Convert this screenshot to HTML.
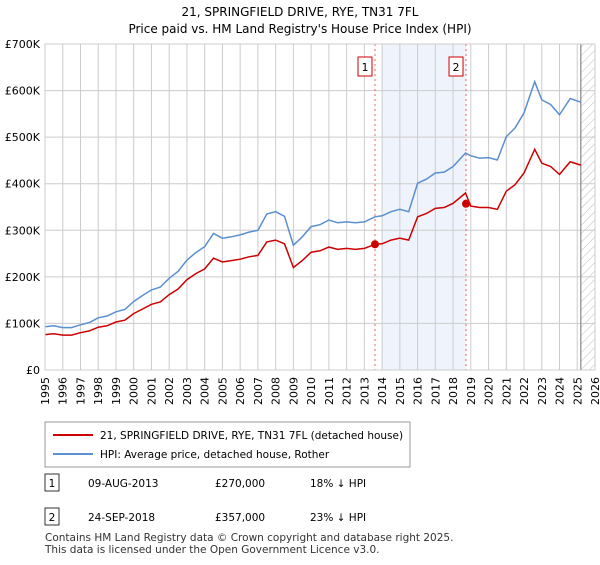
<!DOCTYPE html>
<html><head><meta charset="utf-8"><style>
body{margin:0;background:#fff;font-family:"Liberation Sans","DejaVu Sans",sans-serif;}
svg text{font-family:"DejaVu Sans","Liberation Sans",sans-serif;}
</style></head><body>
<svg id="c" width="600" height="560" xmlns="http://www.w3.org/2000/svg">
<defs><pattern id="h" width="6" height="6" patternUnits="userSpaceOnUse" patternTransform="rotate(45)"><line x1="0" y1="0" x2="0" y2="6" stroke="#bbb" stroke-width="1"/></pattern></defs>
<text x="300" y="16" text-anchor="middle" font-size="12">21, SPRINGFIELD DRIVE, RYE, TN31 7FL</text>
<text x="300" y="33" text-anchor="middle" font-size="12">Price paid vs. HM Land Registry's House Price Index (HPI)</text>
<g id="plot"></g>
<g>
<rect x="45" y="422" width="365" height="45" fill="#fff" stroke="#999"/>
<line x1="53" y1="435" x2="93" y2="435" stroke="#cc0000" stroke-width="2"/>
<text x="100" y="439" font-size="10.5">21, SPRINGFIELD DRIVE, RYE, TN31 7FL (detached house)</text>
<line x1="53" y1="454" x2="93" y2="454" stroke="#5b8fd0" stroke-width="2"/>
<text x="100" y="458" font-size="10.5">HPI: Average price, detached house, Rother</text>
</g>
<g>
<rect x="45" y="474" width="14" height="17" fill="#fff" stroke="#333"/>
<text x="52" y="487" text-anchor="middle" font-size="10.5">1</text>
<text x="88" y="487" font-size="10.5">09-AUG-2013</text>
<text x="215" y="487" font-size="10.5">£270,000</text>
<text x="310" y="487" font-size="10.5">18% ↓ HPI</text>
<rect x="45" y="508" width="14" height="17" fill="#fff" stroke="#333"/>
<text x="52" y="521" text-anchor="middle" font-size="10.5">2</text>
<text x="88" y="521" font-size="10.5">24-SEP-2018</text>
<text x="215" y="521" font-size="10.5">£357,000</text>
<text x="310" y="521" font-size="10.5">23% ↓ HPI</text>
</g>
<text x="45" y="541" font-size="10.5" fill="#333">Contains HM Land Registry data © Crown copyright and database right 2025.</text>
<text x="45" y="553" font-size="10.5" fill="#333">This data is licensed under the Open Government Licence v3.0.</text>
</svg>
<script>
const years=[1995,1995.5,1996,1996.5,1997,1997.5,1998,1998.5,1999,1999.5,2000,2000.5,2001,2001.5,2002,2002.5,2003,2003.5,2004,2004.5,2005,2005.5,2006,2006.5,2007,2007.5,2008,2008.5,2009,2009.5,2010,2010.5,2011,2011.5,2012,2012.5,2013,2013.6,2014,2014.5,2015,2015.5,2016,2016.5,2017,2017.5,2018,2018.7,2019,2019.5,2020,2020.5,2021,2021.5,2022,2022.6,2023,2023.5,2024,2024.6,2025.2];
const hpi=[93,95,91,91,97,102,112,116,125,130,147,160,172,178,197,212,236,252,265,293,283,286,290,296,300,335,340,330,268,286,308,312,322,316,318,316,318,329,331,340,345,340,401,410,423,425,437,466,460,455,456,451,501,520,552,619,580,570,548,583,575];
const paid=[76,78,75,75,80,84,92,95,103,107,121,131,141,146,162,174,194,207,217,240,232,235,238,243,246,275,279,271,220,235,253,256,264,259,261,259,261,270,271,279,283,279,329,336,347,349,358,380,352,349,349,345,384,398,423,474,444,437,420,447,440];
const saleYears=[2013.6,2018.73];
const salePrices=[270,357];
const yTicks=[0,100,200,300,400,500,600,700];
const yLabels=["£0","£100K","£200K","£300K","£400K","£500K","£600K","£700K"];
const X0=45,X1=595,Y0=370,Y1=44,YMIN=1995,YMAX=2026,VMAX=700;
const xs=y=>X0+(y-YMIN)/(YMAX-YMIN)*(X1-X0);
const ys=v=>Y0-v/VMAX*(Y0-Y1);
const NS="http://www.w3.org/2000/svg";
const g=document.getElementById('plot');
function mk(t,a){const e=document.createElementNS(NS,t);for(const k in a)e.setAttribute(k,a[k]);g.appendChild(e);return e;}
let e;
e=mk('rect',{x:xs(2014),y:Y1,width:xs(saleYears[1])-xs(2014),height:Y0-Y1,fill:'#eef3fc'});


e=mk('rect',{x:xs(2025.2),y:Y1,width:X1-xs(2025.2),height:Y0-Y1,fill:'url(#h)'});


for(let yr=YMIN;yr<=YMAX;yr++){
 e=mk('line',{x1:xs(yr),x2:xs(yr),y1:Y1,y2:Y0,stroke:'#ccc','stroke-width':1});
 
 
 const tx=xs(yr)+4,ty=Y0+7;
 e=mk('text',{x:tx,y:ty,'text-anchor':'end','font-size':11,transform:`rotate(-90 ${tx} ${ty})`});
 e.textContent=yr;
 
 
}
yTicks.forEach((v,i)=>{
 e=mk('line',{x1:X0,x2:X1,y1:ys(v),y2:ys(v),stroke:'#ccc','stroke-width':1});
 
 
 e=mk('text',{x:X0-5,y:ys(v)+4,'text-anchor':'end','font-size':11});
 e.textContent=yLabels[i];
 
 
});
e=mk('line',{x1:xs(2025.2),x2:xs(2025.2),y1:Y1,y2:Y0,stroke:'#888','stroke-width':1.2});


saleYears.forEach((s,i)=>{
 e=mk('line',{x1:xs(s),x2:xs(s),y1:Y1,y2:Y0,stroke:'#f06060','stroke-width':1,'stroke-dasharray':'2,3'});
 
 
 e=mk('rect',{x:xs(s)-17,y:57,width:14,height:19,fill:'#fff',stroke:'#cc0000'});
 
 
 e=mk('text',{x:xs(s)-10,y:71,'text-anchor':'middle','font-size':11});
 e.textContent=i+1;
 
 
});
const pts=a=>years.map((y,i)=>xs(y).toFixed(1)+','+ys(a[i]).toFixed(1)).join(' ');
e=mk('polyline',{points:pts(hpi),fill:'none',stroke:'#5b8fd0','stroke-width':1.5});


e=mk('polyline',{points:pts(paid),fill:'none',stroke:'#cc0000','stroke-width':1.5});


saleYears.forEach((s,i)=>{
 e=mk('circle',{cx:xs(s),cy:ys(salePrices[i]),r:4,fill:'#cc0000'});
 
 
});
e=mk('rect',{x:X0,y:Y1,width:X1-X0,height:Y0-Y1,fill:'none',stroke:'#ccc'});


</script>
</body></html>
